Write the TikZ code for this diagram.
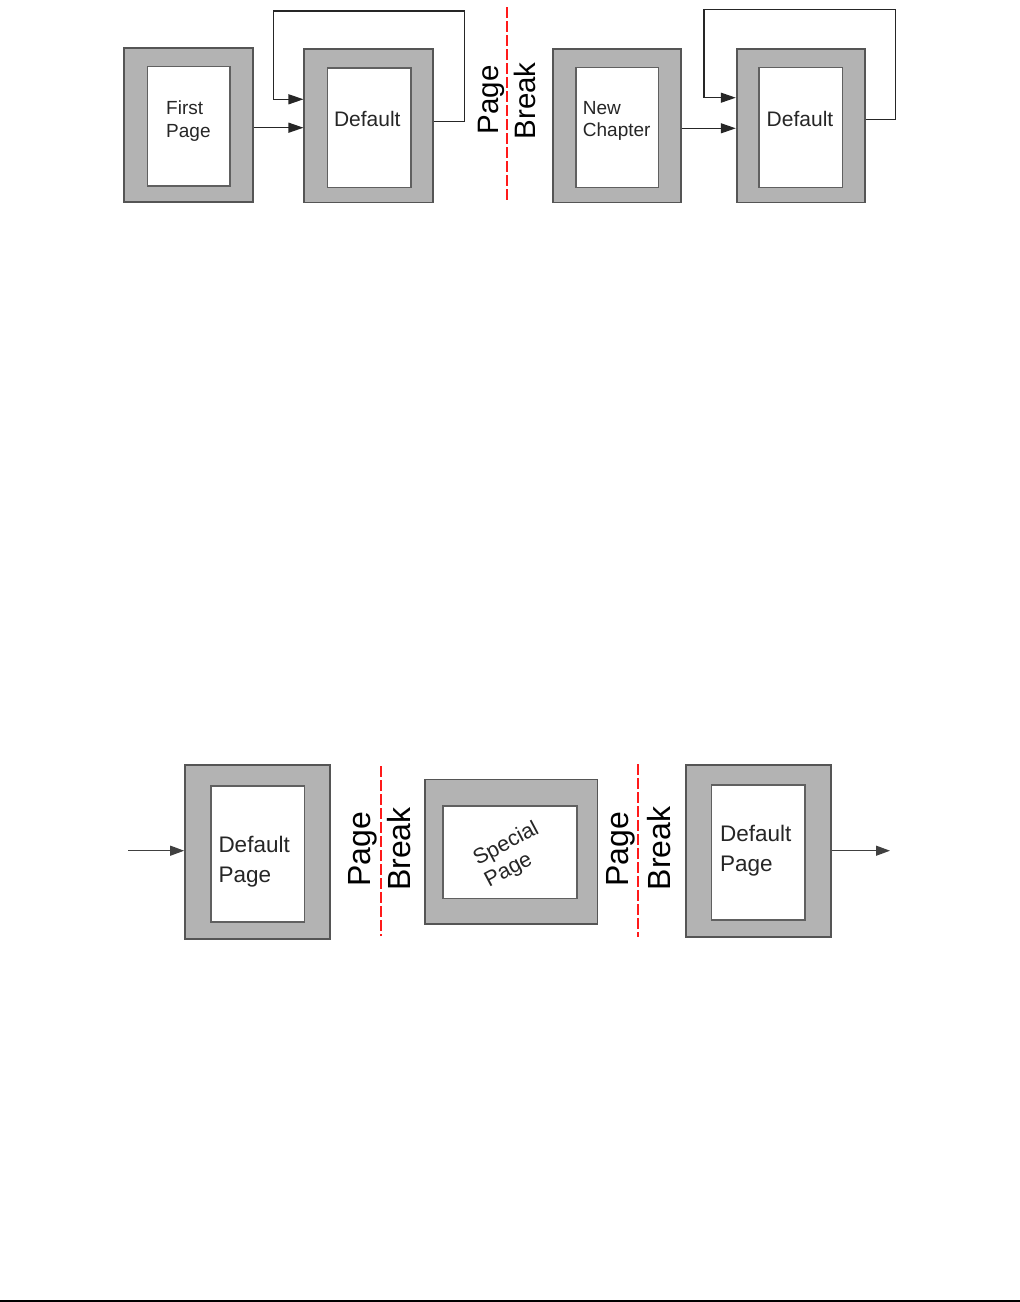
\documentclass[tikz,border=0pt]{standalone}
\usepackage{fontspec}
\setmainfont{Liberation Sans}
\usetikzlibrary{arrows.meta}
\definecolor{pgfill}{HTML}{B3B3B3}
\definecolor{pgedge}{HTML}{555555}
\definecolor{inedge}{HTML}{606060}
\definecolor{brk}{HTML}{FF1A1A}
\begin{document}
\begin{tikzpicture}[x=1pt,y=-1pt,
  outerpg/.style={draw=pgedge,fill=pgfill,line width=1.7pt,inner sep=0pt,minimum width=#1},
  innerpg/.style={draw=inedge,fill=white,line width=1.6pt,inner sep=0pt,minimum width=#1},
  lbl/.style={inner sep=0pt,text=black!85,align=left},
  brklbl/.style={inner sep=0pt,rotate=90,anchor=base,text=black},
  brkline/.style={draw=brk,line width=2pt,dash pattern=on 11pt off 3pt},
  arr/.style={draw=black!85,line width=1.2pt,-{Triangle[length=15pt,width=10pt]}},
  arrb/.style={draw=black!75,line width=1.2pt,-{Triangle[length=14pt,width=10pt]}}
]
\useasboundingbox (0,0) rectangle (1020,1302);

% ---------- top diagram ----------
\node[outerpg=129pt,minimum height=154.6pt] (fp) at (188.8,125) {};
\node[innerpg=82.7pt,minimum height=119.3pt] (fpi) at (188.7,126.3) {};
\node[outerpg=128.4pt,minimum height=153.3pt] (d1) at (368.5,125.7) {};
\node[innerpg=83.4pt,minimum height=119.6pt] (d1i) at (369,127.5) {};
\node[outerpg=128pt,minimum height=153.3pt] (nc) at (616.7,125.7) {};
\node[innerpg=82.6pt,minimum height=120pt] (nci) at (617,127.3) {};
\node[outerpg=128.3pt,minimum height=153.3pt] (d2) at (800.8,125.7) {};
\node[innerpg=83.7pt,minimum height=120pt] (d2i) at (800.8,127.3) {};

\node[lbl,anchor=west,font=\fontsize{19}{23}\selectfont] (fpt) at (166,120.7) {First\\Page};
\node[lbl,anchor=base,font=\fontsize{21}{25}\selectfont] (d1t) at (367.3,126.7) {Default};
\node[lbl,anchor=west,font=\fontsize{19}{22.5}\selectfont] (nct) at (582.7,120.7) {New\\Chapter};
\node[lbl,anchor=base,font=\fontsize{21}{25}\selectfont] (d2t) at (800,126.7) {Default};

\coordinate (bt1) at (506.7,7.3);
\coordinate (bb1) at (506.7,200.7);
\draw[brkline] (bt1) -- (bb1);
\node[brklbl,font=\fontsize{29.5}{33}\selectfont] (pg1) at (498,100) {Page};
\node[brklbl,font=\fontsize{29.5}{33}\selectfont] (br1) at (535,100.8) {Break};

\draw[arr] ([yshift=-2.7pt]fp.east) -- ([yshift=-2.7pt]fp.east -| d1.west);
\coordinate (l1a) at (464.3,11);
\coordinate (l1b) at (273.3,99.3);
\draw[arr] ([yshift=4pt]d1.east) -| (l1a) -| (l1b) -- (l1b -| d1.west);

\draw[arr] ([yshift=-2.6pt]nc.east) -- ([yshift=-2.6pt]nc.east -| d2.west);
\coordinate (l2a) at (895.3,9.3);
\coordinate (l2b) at (704,97.7);
\draw[arr] ([yshift=6.4pt]d2.east) -| (l2a) -| (l2b) -- (l2b -| d2.west);

% ---------- bottom diagram ----------
\node[outerpg=145pt,minimum height=174pt] (b1) at (257.5,852) {};
\node[innerpg=93.6pt,minimum height=136pt] (b1i) at (257.5,853.7) {};
\node[outerpg=172.3pt,minimum height=144.7pt] (sp) at (511.2,851.7) {};
\node[innerpg=134pt,minimum height=92.6pt] (spi) at (509.7,852) {};
\node[outerpg=145pt,minimum height=171.7pt] (b3) at (758.2,850.8) {};
\node[innerpg=93.3pt,minimum height=135pt] (b3i) at (758.3,852.5) {};

\node[lbl,anchor=west,font=\fontsize{22.5}{29.7}\selectfont] (b1t) at (218.3,861.4) {Default\\Page};
\node[lbl,anchor=west,font=\fontsize{22.5}{30}\selectfont] (b3t) at (720,851) {Default\\Page};
\node[lbl,rotate=28,font=\fontsize{21.5}{24}\selectfont] (spt) at (512,855) {Special\\Page};

\coordinate (bt2) at (381,766);
\coordinate (bb2) at (381,936);
\draw[brkline] (bt2) -- (bb2);
\node[brklbl,font=\fontsize{32}{35}\selectfont] (pg2) at (370,849) {Page};
\node[brklbl,font=\fontsize{32}{35}\selectfont] (br2) at (410,849) {Break};

\coordinate (bt3) at (638.3,764);
\coordinate (bb3) at (638.3,937.3);
\draw[brkline] (bt3) -- (bb3);
\node[brklbl,font=\fontsize{32}{35}\selectfont] (pg3) at (628.3,849) {Page};
\node[brklbl,font=\fontsize{32}{35}\selectfont] (br3) at (670,848.4) {Break};

\coordinate (inA) at (128,850.7);
\draw[arrb] (inA) -- (inA -| b1.west);
\coordinate (outA) at (890,850.7);
\draw[arrb] (outA -| b3.east) -- (outA);

% bottom rule
\coordinate (rl) at (0,1301);
\coordinate (rr) at (1020,1301);
\draw[black,line width=2pt] (rl) -- (rr);
\end{tikzpicture}
\end{document}
